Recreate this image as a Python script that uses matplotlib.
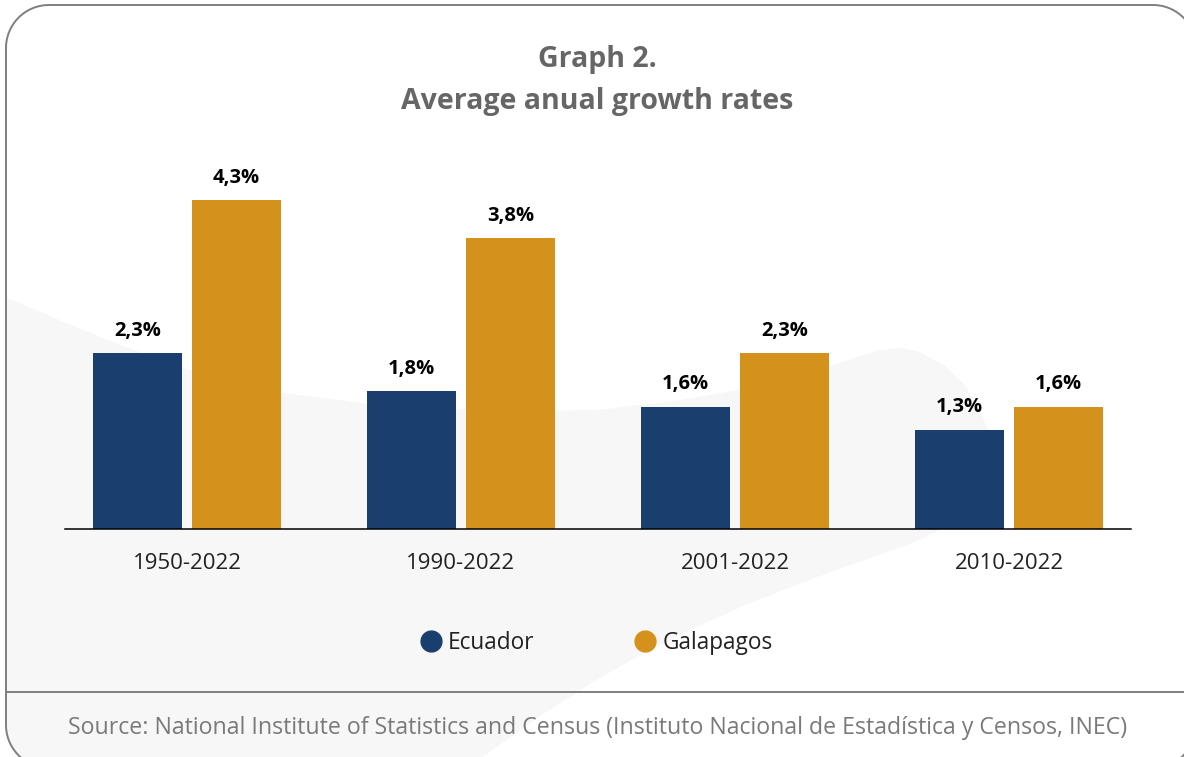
import matplotlib
matplotlib.use('Agg')
import matplotlib.pyplot as plt
import matplotlib.patches as mpatches
import numpy as np

# ── Data ──
periods = ['1950-2022', '1990-2022', '2001-2022', '2010-2022']
ecuador = [2.3, 1.8, 1.6, 1.3]
galapagos = [4.3, 3.8, 2.3, 1.6]
series_names = ['Ecuador', 'Galapagos']

NAVY = '#1a3f6f'
GOLD = '#d4911b'
FONT = 'Open Sans'

W, H = 1184, 757
fig = plt.figure(figsize=(W / 100, H / 100), dpi=100)
fig.patch.set_facecolor('white')

# ── Card background, in pixels measured from the top edge ──
bg = fig.add_axes([0, 0, 1, 1], zorder=0)
bg.set_xlim(0, W)
bg.set_ylim(H, 0)
bg.axis('off')


def rounded_rect(x0, y0, x1, y1, r, n=24):
    pts = []
    corners = [(x1 - r, y0 + r, -90, 0), (x1 - r, y1 - r, 0, 90),
               (x0 + r, y1 - r, 90, 180), (x0 + r, y0 + r, 180, 270)]
    for cx, cy, a0, a1 in corners:
        t = np.radians(np.linspace(a0, a1, n))
        pts += list(zip(cx + r * np.cos(t), cy + r * np.sin(t)))
    return pts


card = mpatches.Polygon(rounded_rect(6, 5, 1196, 768, 43), closed=True,
                        facecolor='none', edgecolor='#7f7f7f',
                        linewidth=1.4, zorder=3)
bg.add_patch(card)

swoosh_pts = [(0, 295), (50, 316), (100, 337), (150, 356), (191, 370),
              (240, 383), (283, 393), (370, 404), (460, 409), (540, 411),
              (600, 410), (680, 400), (761, 386), (820, 370), (860, 356),
              (880, 350), (900, 348), (920, 352), (945, 366), (965, 385),
              (980, 410), (990, 435), (992, 455), (986, 480), (972, 505),
              (950, 525), (915, 542), (870, 558), (820, 576), (750, 603),
              (690, 630), (631, 660), (593, 682), (540, 716), (483, 757),
              (0, 757)]
swoosh = mpatches.Polygon(swoosh_pts, closed=True, facecolor='#f7f7f7',
                          edgecolor='none', zorder=1)
bg.add_patch(swoosh)
swoosh.set_clip_path(card)

bg.plot([6, W], [692, 692], color='#7f7f7f', linewidth=1.4, zorder=3)

bg.text(597, 60, 'Graph 2.', ha='center', va='center', fontsize=20.5,
        fontweight='bold', color='#666666', family=FONT)
bg.text(597, 101, 'Average anual growth rates', ha='center', va='center',
        fontsize=20.5, fontweight='bold', color='#666666', family=FONT)

bg.text(598, 728, 'Source: National Institute of Statistics and Census '
        '(Instituto Nacional de Estadística y Censos, INEC)',
        ha='center', va='center', fontsize=16.7, color='#7a7a7a', family=FONT)

# ── Legend ──
for (mx, tx), name, c in zip([(431, 448), (645, 663)], series_names,
                             (NAVY, GOLD)):
    bg.plot(mx, 641, marker='o', markersize=15, color=c, zorder=4)
    bg.text(tx, 643, name, ha='left', va='center', fontsize=16.3,
            color='#222222', family=FONT, zorder=4)

# ── Bars ──
ax = fig.add_axes([65 / W, (H - 529) / H, (1131 - 65) / W, (529 - 150) / H],
                  zorder=2)
ax.patch.set_alpha(0)

x = np.arange(len(periods))
BAR_W = 0.325
OFF = 0.18
ax.bar(x - OFF, ecuador, width=BAR_W, color=NAVY)
ax.bar(x + OFF, galapagos, width=BAR_W, color=GOLD)

ax.set_xlim(-0.445, len(periods) - 1 + 0.445)
ax.set_ylim(0, (529 - 150) / 76.5)

for xi, e, g in zip(x, ecuador, galapagos):
    for pos, v in ((xi - OFF, e), (xi + OFF, g)):
        ax.text(pos, v + 0.16, f'{v:.1f}%'.replace('.', ','),
                ha='center', va='bottom', fontsize=14.5, fontweight='bold',
                color='black', family=FONT)

ax.set_xticks(x)
ax.set_xticklabels(periods, fontsize=16, family=FONT, color='#222222')
ax.tick_params(axis='x', length=0, pad=17)
ax.set_yticks([])
for s in ('top', 'right', 'left'):
    ax.spines[s].set_visible(False)
ax.spines['bottom'].set_color('black')
ax.spines['bottom'].set_linewidth(1.1)

fig.savefig('out.png', dpi=100)
